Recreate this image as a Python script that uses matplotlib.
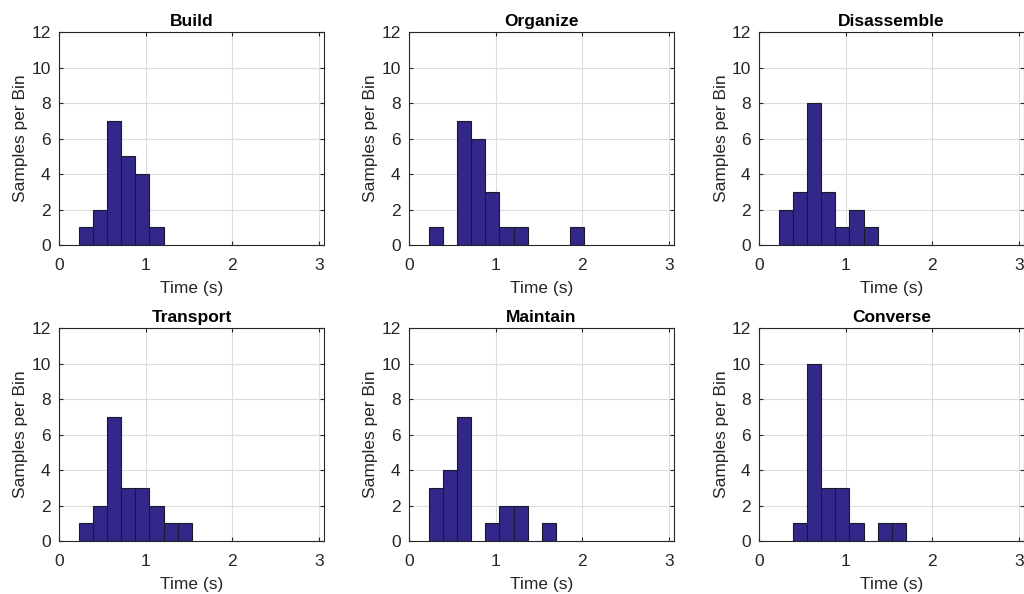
import matplotlib
matplotlib.use("Agg")
import matplotlib.pyplot as plt
import numpy as np

plt.rcParams['font.family'] = ['Liberation Sans', 'DejaVu Sans']

bin_edges = [0.235, 0.397, 0.559, 0.721, 0.883, 1.045, 1.207, 1.369, 1.531, 1.693, 1.855, 2.017]

titles = ["Build", "Organize", "Disassemble", "Transport", "Maintain", "Converse"]
build = [1, 2, 7, 5, 4, 1]
organize = [1, 0, 7, 6, 3, 1, 1, 0, 0, 0, 1]
disassemble = [2, 3, 8, 3, 1, 2, 1]
transport = [1, 2, 7, 3, 3, 2, 1, 1]
maintain = [3, 4, 7, 0, 1, 2, 2, 0, 1]
converse = [0, 1, 10, 3, 3, 1, 0, 1, 1]
series = [build, organize, disassemble, transport, maintain, converse]

x_ticks = [0, 1, 2, 3]
y_ticks = [0, 2, 4, 6, 8, 10, 12]

fig = plt.figure(figsize=(10.24, 5.94), dpi=100)
lefts = [0.0576, 0.3994, 0.7412]
bottoms = [0.5875, 0.0892]
w, h = 0.2588, 0.3586

bar_color = '#32288a'
for i, (title, counts) in enumerate(zip(titles, series)):
    r, c = divmod(i, 3)
    ax = fig.add_axes([lefts[c], bottoms[r], w, h])
    edges = np.array(bin_edges[:len(counts) + 1])
    cnt = np.array(counts)
    mask = cnt > 0
    ax.bar(edges[:-1][mask], cnt[mask], width=np.diff(edges)[mask], align='edge',
           color=bar_color, edgecolor='#1a1a2a', linewidth=0.8, zorder=3)
    ax.set_xlim(0, 3.06)
    ax.set_ylim(0, 12)
    ax.set_xticks(x_ticks)
    ax.set_yticks(y_ticks)
    ax.grid(True, color='#dcdcdc', linewidth=0.8, zorder=0)
    ax.set_axisbelow(True)
    ax.tick_params(direction='in', length=3, top=True, right=True, labelsize=12.5,
                   color='#262626', labelcolor='#262626')
    ax.tick_params(axis='x', pad=9)
    ax.tick_params(axis='y', pad=6)
    for s in ax.spines.values():
        s.set_color('#262626')
        s.set_linewidth(0.8)
    ax.set_title(title, fontsize=12.5, fontweight='bold', pad=4)
    ax.set_xlabel("Time (s)", fontsize=12.5, color='#262626', labelpad=6)
    ax.set_ylabel("Samples per Bin", fontsize=12.5, color='#262626', labelpad=2)

fig.savefig("out.png", dpi=100)
